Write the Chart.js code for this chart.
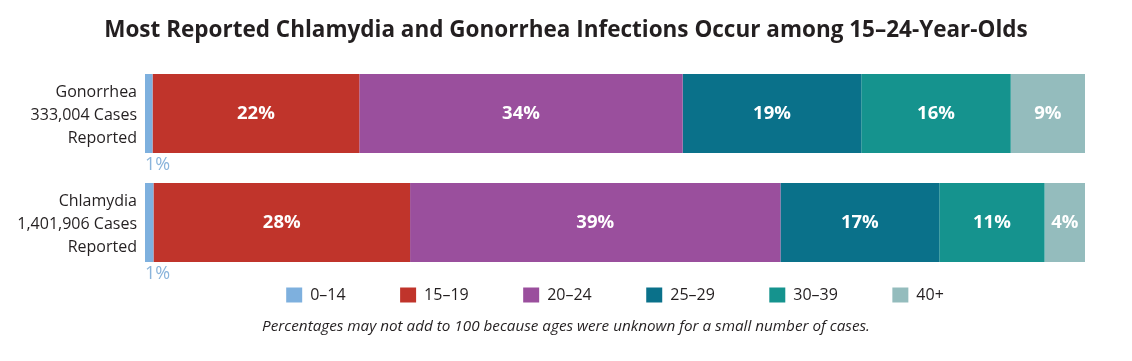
<!DOCTYPE html>
<html>
<head>
<meta charset="utf-8">
<script src="https://cdn.jsdelivr.net/npm/chart.js@4/dist/chart.umd.min.js"></script>
<style>
  html, body { margin: 0; padding: 0; background: #fff; }
  #wrap { width: 1132px; height: 361px; }
</style>
</head>
<body>
<div id="wrap"><canvas id="ageChart"></canvas></div>
<script>
// Data
const categories = [
  ['Gonorrhea', '333,004 Cases', 'Reported'],
  ['Chlamydia', '1,401,906 Cases', 'Reported']
];
const ageGroups = ['0–14', '15–19', '20–24', '25–29', '30–39', '40+'];
// bar lengths (share of cases, %)
const gonorrheaShares = [0.8, 22.0, 34.4, 19.0, 15.9, 7.9];
const chlamydiaShares = [0.9, 27.3, 39.4, 16.9, 11.2, 4.3];
// percentages printed on the bars
const gonorrheaLabels = [1, 22, 34, 19, 16, 9];
const chlamydiaLabels = [1, 28, 39, 17, 11, 4];

const colors = ['#7eb0de', '#c0342b', '#9a4f9d', '#0a718a', '#15938e', '#94bcbd'];
const textColor = '#231f20';
const font = "'Open Sans', sans-serif";

const printed = [gonorrheaLabels, chlamydiaLabels];

// labels inside each segment (first segment gets its label under the bar)
const segmentLabels = {
  id: 'segmentLabels',
  afterDatasetsDraw(chart) {
    const ctx = chart.ctx;
    ctx.save();
    chart.data.datasets.forEach((ds, di) => {
      const meta = chart.getDatasetMeta(di);
      meta.data.forEach((bar, i) => {
        const txt = printed[i][di] + '%';
        if (di === 0) {
          ctx.font = '18px ' + font;
          ctx.fillStyle = '#8ab4db';
          ctx.textAlign = 'left';
          ctx.textBaseline = 'middle';
          ctx.fillText(txt, bar.base, bar.y + bar.height / 2 + 12);
        } else {
          ctx.font = 'bold 18.5px ' + font;
          ctx.fillStyle = '#ffffff';
          ctx.textAlign = 'center';
          ctx.textBaseline = 'middle';
          ctx.fillText(txt, (bar.x + bar.base) / 2, bar.y);
        }
      });
    });
    ctx.restore();
  }
};

const datasets = ageGroups.map((g, i) => ({
  label: g,
  data: [gonorrheaShares[i], chlamydiaShares[i]],
  backgroundColor: colors[i],
  borderWidth: 0,
  categoryPercentage: 1,
  barPercentage: 0.725
}));

new Chart(document.getElementById('ageChart'), {
  type: 'bar',
  data: { labels: categories, datasets: datasets },
  plugins: [segmentLabels],
  options: {
    indexAxis: 'y',
    responsive: true,
    maintainAspectRatio: false,
    animation: false,
    layout: { padding: 0 },
    scales: {
      x: {
        stacked: true,
        min: 0,
        max: 100,
        display: false
      },
      y: {
        stacked: true,
        grid: { display: false, drawTicks: false },
        border: { display: false },
        ticks: {
          color: textColor,
          padding: 8,
          labelOffset: 2,
          font: { family: font, size: 16, lineHeight: 1.44 }
        },
        afterFit(scale) { scale.width = 145; }
      },
      // empty right margin so the title stays centred on the page
      yRight: {
        type: 'category',
        position: 'right',
        grid: { display: false, drawTicks: false },
        border: { display: false },
        ticks: { display: false },
        afterFit(scale) { scale.width = 47; }
      }
    },
    plugins: {
      title: {
        display: true,
        text: 'Most Reported Chlamydia and Gonorrhea Infections Occur among 15–24-Year-Olds',
        color: textColor,
        font: { family: font, size: 22.5, weight: 'bold', lineHeight: 1.2 },
        padding: { top: 17, bottom: 15 }
      },
      subtitle: {
        display: true,
        position: 'bottom',
        text: 'Percentages may not add to 100 because ages were unknown for a small number of cases.',
        color: textColor,
        font: { family: font, size: 15.25, style: 'italic', lineHeight: 1.2 },
        padding: { top: 5, bottom: 24.7 }
      },
      legend: {
        position: 'bottom',
        fullSize: false,
        labels: {
          color: textColor,
          boxWidth: 16,
          boxHeight: 15,
          padding: 10,
          font: { family: font, size: 16 },
          // widen the gap between items (trailing blanks, none after the last one)
          generateLabels(chart) {
            const items = Chart.defaults.plugins.legend.labels.generateLabels(chart);
            return items.map((it, i) => {
              if (i < items.length - 1) it.text += '\u2003\u2003   ';
              return it;
            });
          }
        }
      },
      tooltip: { enabled: false }
    }
  }
});
</script>
</body>
</html>
